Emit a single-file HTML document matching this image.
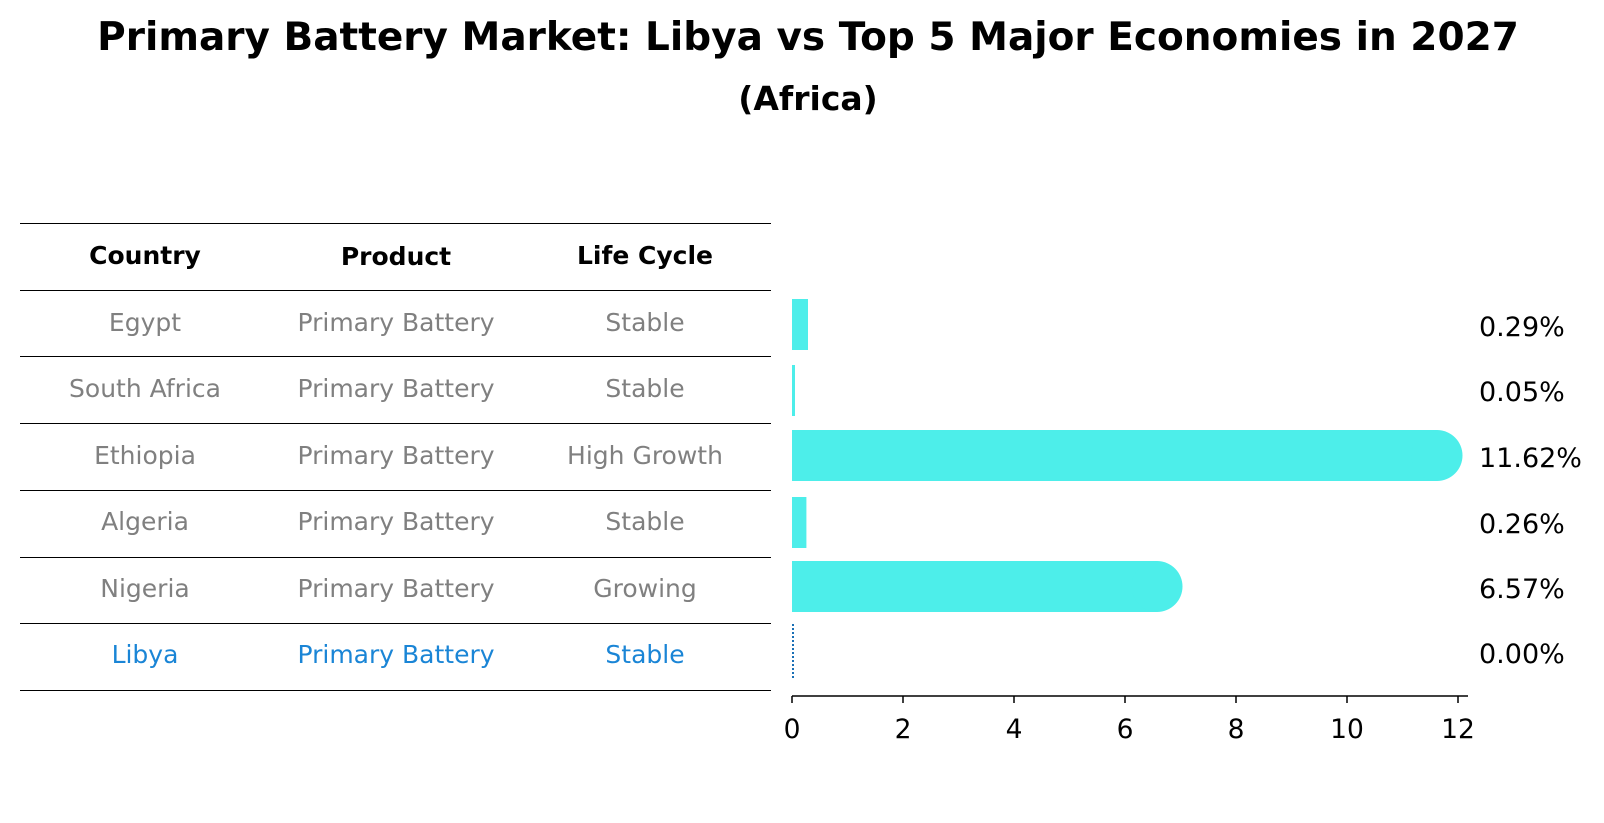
<!DOCTYPE html>
<html><head><meta charset="utf-8"><style>
html,body{margin:0;padding:0;background:#fff;}
svg{display:block;font-family:"DejaVu Sans","Liberation Sans",sans-serif;}
</style></head><body>
<svg width="1604" height="823" viewBox="0 0 1604 823" xmlns="http://www.w3.org/2000/svg">
<text x="808" y="50" text-anchor="middle" font-size="39" font-weight="bold">Primary Battery Market: Libya vs Top 5 Major Economies in 2027</text>
<text x="808" y="110" text-anchor="middle" font-size="33" font-weight="bold">(Africa)</text>
<g stroke="#000" stroke-width="1">
<line x1="20" x2="771" y1="223.5" y2="223.5"/><line x1="20" x2="771" y1="290.5" y2="290.5"/>
<line x1="20" x2="771" y1="356.5" y2="356.5"/><line x1="20" x2="771" y1="423.5" y2="423.5"/>
<line x1="20" x2="771" y1="490.5" y2="490.5"/><line x1="20" x2="771" y1="557.5" y2="557.5"/>
<line x1="20" x2="771" y1="623.5" y2="623.5"/><line x1="20" x2="771" y1="690.5" y2="690.5"/>
</g>
<g font-size="25" text-anchor="middle">
<g font-weight="bold" fill="#000" font-size="25"><text x="145" y="264">Country</text><text x="396" y="265">Product</text><text x="645" y="264">Life Cycle</text></g>
<g fill="#808080">
<text x="145" y="331">Egypt</text><text x="396" y="331">Primary Battery</text><text x="645" y="331">Stable</text>
<text x="145" y="397">South Africa</text><text x="396" y="397">Primary Battery</text><text x="645" y="397">Stable</text>
<text x="145" y="464">Ethiopia</text><text x="396" y="464">Primary Battery</text><text x="645" y="464">High Growth</text>
<text x="145" y="530">Algeria</text><text x="396" y="530">Primary Battery</text><text x="645" y="530">Stable</text>
<text x="145" y="597">Nigeria</text><text x="396" y="597">Primary Battery</text><text x="645" y="597">Growing</text>
</g>
<g fill="#1a85d6"><text x="145" y="663">Libya</text><text x="396" y="663">Primary Battery</text><text x="645" y="663">Stable</text></g>
</g>
<g fill="#4deeea">
<rect x="792" y="299" width="16" height="51"/>
<rect x="792" y="365" width="3" height="51"/>
<rect x="792" y="430" width="645" height="51"/><circle cx="1437" cy="455.5" r="25.5"/>
<rect x="792" y="497" width="14.4" height="51"/>
<rect x="792" y="561" width="365" height="51"/><circle cx="1157" cy="586.5" r="25.5"/>
</g>
<line x1="793" x2="793" y1="624" y2="679" stroke="#1a6fb5" stroke-width="2" stroke-dasharray="2,2"/>
<g font-size="27" fill="#000">
<text x="1479" y="336">0.29%</text><text x="1479" y="401">0.05%</text><text x="1479" y="467">11.62%</text>
<text x="1479" y="533">0.26%</text><text x="1479" y="598">6.57%</text><text x="1479" y="663">0.00%</text>
</g>
<line x1="792" x2="1468" y1="696" y2="696" stroke="#000" stroke-width="1.5"/>
<g stroke="#000" stroke-width="1.5">
<line x1="792" x2="792" y1="696" y2="703"/><line x1="903" x2="903" y1="696" y2="703"/>
<line x1="1014" x2="1014" y1="696" y2="703"/><line x1="1125" x2="1125" y1="696" y2="703"/>
<line x1="1236" x2="1236" y1="696" y2="703"/><line x1="1347" x2="1347" y1="696" y2="703"/>
<line x1="1458" x2="1458" y1="696" y2="703"/>
</g>
<g font-size="26.5" text-anchor="middle">
<text x="792" y="738">0</text><text x="903" y="738">2</text><text x="1014" y="738">4</text><text x="1125" y="738">6</text>
<text x="1236" y="738">8</text><text x="1347" y="738">10</text><text x="1458" y="738">12</text>
</g>
</svg>
</body></html>
